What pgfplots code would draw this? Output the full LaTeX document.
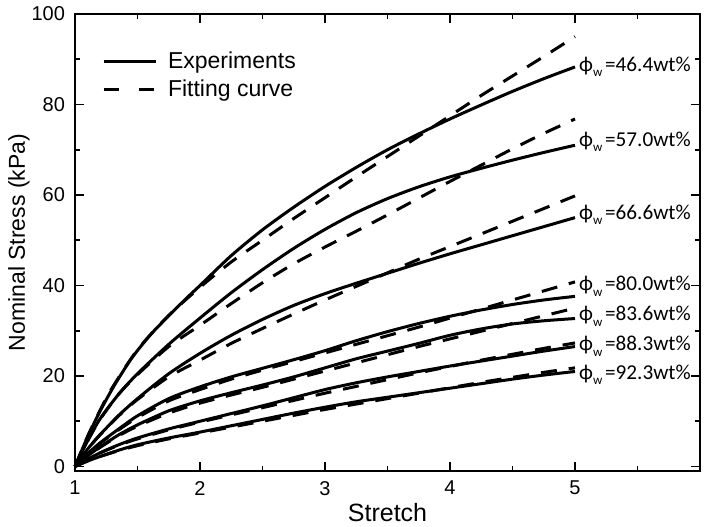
\documentclass[border=0pt]{standalone}
\usepackage{pgfplots}
\pgfplotsset{compat=1.18}
\usepackage{fontspec}
\setmainfont{Liberation Sans}
\newfontfamily\lbl{Carlito}
\newcommand{\phw}[1]{{\lbl\fontsize{10.6}{12}\selectfont ϕ\raisebox{-0.55ex}{\fontsize{6.5}{7}\selectfont w}\hspace{1.4pt}=#1wt\%}}
\begin{document}
\begin{tikzpicture}
\begin{axis}[
  name=ax,
  width=312.5pt, height=228.5pt, scale only axis,
  xmin=1, xmax=6, ymin=-1, ymax=100,
  xtick={1,2,3,4,5}, minor xtick={1.5,2.5,3.5,4.5,5.5},
  ytick={0,20,40,60,80,100}, minor ytick={10,30,50,70,90},
  major tick length=4.5pt, minor tick length=2.5pt,
  tick style={line width=0.8pt, black},
  axis line style={line width=0.9pt},
  /pgf/number format/assume math mode=true,
  tick label style={font=\fontsize{10}{11}\selectfont},
  xticklabel style={yshift=-1.5pt},
  yticklabel style={xshift=-1.5pt},
  xlabel={Stretch}, ylabel={Nominal Stress (kPa)},
  every axis x label/.style={at={(axis description cs:0.5,0)}, yshift=-21pt, anchor=center, font=\fontsize{12.5}{14}\selectfont},
  every axis y label/.style={at={(axis description cs:0,0.5)}, xshift=-28pt, rotate=90, anchor=center, font=\fontsize{11.5}{13}\selectfont},
  legend style={draw=none, fill=none, at={(axis description cs:0.033,0.935)}, anchor=north west,
    font=\fontsize{11.5}{13}\selectfont, row sep=0pt,
    /tikz/every odd column/.append style={column sep=3.5pt}},
  legend cell align=left,
  legend image code/.code={\draw[#1] (0pt,0pt) -- (26pt,0pt);},
  clip=false,
  every axis plot/.append style={line width=1.5pt, black, smooth, tension=0.45},
]
\addlegendimage{solid, line width=1.5pt}
\addlegendimage{line width=1.5pt, dash pattern=on 7.5pt off 10pt}
\legend{Experiments, Fitting curve}
% 46.4
\addplot[forget plot] coordinates {(1,0)(1.1,6.5)(1.2,12.2)(1.31,17.7)(1.45,23.8)(1.6,29)(1.75,33.3)(1.9,37.4)(2,40)(2.25,46.6)(2.5,52.3)(2.75,57.3)(3,61.9)(3.25,66.1)(3.5,70)(3.75,73.5)(4,76.8)(4.25,79.9)(4.5,82.9)(4.75,85.7)(5,88.3)};
\addplot[forget plot, dash pattern=on 8pt off 6pt] coordinates {(1,0)(1.1,6.6)(1.2,12.4)(1.3,17.5)(1.5,25.8)(1.75,33.4)(2,39.6)(2.25,45.2)(2.5,50)(2.75,54.8)(3,59.4)(3.25,64)(3.5,68.5)(3.75,73)(4,77.5)(4.25,82)(4.5,86.3)(4.75,90.6)(5,95)};
% 57.0
\addplot[forget plot] coordinates {(1,0)(1.1,5.6)(1.2,10.5)(1.35,16)(1.5,20.5)(1.75,27)(2,32.8)(2.25,38.4)(2.5,43.5)(2.75,48.2)(3,52.4)(3.25,56.1)(3.5,59.2)(3.75,61.8)(4,64)(4.25,65.9)(4.5,67.7)(4.75,69.4)(5,71)};
\addplot[forget plot, dash pattern=on 8pt off 6pt] coordinates {(1,0)(1.1,5.6)(1.2,10.4)(1.35,16)(1.5,20.3)(1.75,26.5)(2,31.2)(2.25,36)(2.5,40.6)(2.75,44.8)(3,48.5)(3.25,52)(3.5,55.6)(3.75,59.3)(4,63)(4.25,66.6)(4.5,70.2)(4.75,73.6)(5,76.8)};
% 66.6
\addplot[forget plot] coordinates {(1,0)(1.1,3.8)(1.2,7)(1.35,11.3)(1.5,15)(1.75,20.5)(2,25)(2.25,29)(2.5,32.5)(2.75,35.6)(3,38.2)(3.25,40.5)(3.5,42.7)(3.75,44.9)(4,47)(4.25,49)(4.5,51)(4.75,53)(5,55)};
\addplot[forget plot, dash pattern=on 8pt off 6pt] coordinates {(1,0)(1.1,3.8)(1.2,7)(1.35,11.2)(1.5,14.8)(1.75,19.8)(2,23.5)(2.25,27.2)(2.5,30.5)(2.75,33.7)(3,36.8)(3.25,39.8)(3.5,42.8)(3.75,45.8)(4,48.6)(4.25,51.4)(4.5,54.2)(4.75,57)(5,59.8)};
% 80.0
\addplot[forget plot] coordinates {(1,0)(1.1,2.8)(1.2,5.2)(1.35,8.3)(1.5,11.2)(1.75,15)(2,17.6)(2.25,19.8)(2.5,21.7)(2.75,23.6)(3,25.6)(3.25,27.8)(3.5,29.8)(3.75,31.6)(4,33.2)(4.25,34.6)(4.5,35.8)(4.75,36.8)(5,37.6)};
\addplot[forget plot, dash pattern=on 8pt off 6pt] coordinates {(1,0)(1.1,2.8)(1.2,5.1)(1.35,8.1)(1.5,10.8)(1.75,14.5)(2,17)(2.25,19.3)(2.5,21.3)(2.75,23.2)(3,25.1)(3.25,27)(3.5,28.9)(3.75,30.8)(4,32.8)(4.25,34.8)(4.5,36.8)(4.75,38.8)(5,40.8)};
% 83.6
\addplot[forget plot] coordinates {(1,0)(1.1,2.3)(1.2,4.3)(1.35,7)(1.5,9.2)(1.75,12.3)(2,14.5)(2.25,16.3)(2.5,18)(2.75,19.8)(3,21.8)(3.25,23.8)(3.5,25.5)(3.75,27.2)(4,29)(4.25,30.4)(4.5,31.5)(4.75,32.2)(5,32.7)};
\addplot[forget plot, dash pattern=on 8pt off 6pt] coordinates {(1,0)(1.1,2.3)(1.2,4.2)(1.35,6.8)(1.5,8.9)(1.75,11.8)(2,14)(2.25,15.8)(2.5,17.5)(2.75,19.3)(3,21.1)(3.25,22.9)(3.5,24.7)(3.75,26.5)(4,28.2)(4.25,29.9)(4.5,31.6)(4.75,33.3)(5,35)};
% 88.3
\addplot[forget plot] coordinates {(1,0)(1.1,1.6)(1.2,3)(1.35,4.8)(1.5,6.3)(1.75,8.3)(2,10)(2.25,11.7)(2.5,13.4)(2.75,15.2)(3,17)(3.25,18.5)(3.5,19.8)(3.75,21)(4,22.2)(4.25,23.3)(4.5,24.4)(4.75,25.5)(5,26.5)};
\addplot[forget plot, dash pattern=on 8pt off 6pt] coordinates {(1,0)(1.1,1.6)(1.2,3)(1.35,4.7)(1.5,6.1)(1.75,8.1)(2,9.8)(2.25,11.4)(2.5,13)(2.75,14.6)(3,16.2)(3.25,17.7)(3.5,19.2)(3.75,20.7)(4,22.1)(4.25,23.5)(4.5,24.8)(4.75,26.1)(5,27.3)};
% 92.3
\addplot[forget plot] coordinates {(1,0)(1.1,1.2)(1.2,2.2)(1.35,3.6)(1.5,4.8)(1.75,6.3)(2,7.6)(2.25,9)(2.5,10.4)(2.75,11.8)(3,13.1)(3.25,14.3)(3.5,15.3)(3.75,16.3)(4,17.3)(4.25,18.3)(4.5,19.3)(4.75,20.2)(5,21)};
\addplot[forget plot, dash pattern=on 8pt off 6pt] coordinates {(1,0)(1.1,1.2)(1.2,2.2)(1.35,3.5)(1.5,4.6)(1.75,6.1)(2,7.4)(2.25,8.7)(2.5,10)(2.75,11.3)(3,12.6)(3.25,13.8)(3.5,15)(3.75,16.2)(4,17.4)(4.25,18.6)(4.5,19.7)(4.75,20.8)(5,21.8)};
% labels
\node[anchor=west, inner sep=0pt] at (axis cs:5.03,88.3) {\phw{46.4}};
\node[anchor=west, inner sep=0pt] at (axis cs:5.03,71.8) {\phw{57.0}};
\node[anchor=west, inner sep=0pt] at (axis cs:5.03,55.6) {\phw{66.6}};
\node[anchor=west, inner sep=0pt] at (axis cs:5.03,39.8) {\phw{80.0}};
\node[anchor=west, inner sep=0pt] at (axis cs:5.03,33.2) {\phw{83.6}};
\node[anchor=west, inner sep=0pt] at (axis cs:5.03,26.6) {\phw{88.3}};
\node[anchor=west, inner sep=0pt] at (axis cs:5.03,20.3) {\phw{92.3}};
\end{axis}
\pgfresetboundingbox
\path[use as bounding box] ([shift={(-37.5pt,-27.5pt)}]ax.south west) rectangle ([shift={(3pt,7pt)}]ax.north east);
\end{tikzpicture}
\end{document}
